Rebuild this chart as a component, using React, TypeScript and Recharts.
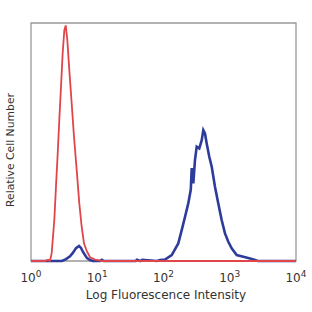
import { LineChart, Line, XAxis, YAxis, ReferenceArea } from 'recharts';

// x values are log10(fluorescence), y values are relative counts (0-100)
const isotypeLog = [0, 0.211, 0.257, 0.285, 0.312, 0.352, 0.377, 0.403, 0.427, 0.453, 0.478, 0.503, 0.524, 0.548, 0.578, 0.614, 0.649, 0.69, 0.729, 0.765, 0.8, 0.841, 0.891, 0.966, 1.067, 4];
const isotypeCount = [0, 0, 0.5, 0, 3.2, 17.2, 31.2, 45.2, 59.2, 73.2, 87.3, 97, 99, 92.9, 80.3, 66.3, 52.2, 38.2, 24.2, 14.4, 7.4, 4.2, 1.6, 0.6, 0, 0];

const stainedLog = [0, 0.468, 0.528, 0.589, 0.634, 0.679, 0.725, 0.755, 0.785, 0.815, 0.845, 0.891, 0.936, 1.04, 1.07, 1.1, 1.58, 1.6, 1.65, 1.68, 1.9, 1.95, 2.023, 2.124, 2.223, 2.275, 2.325, 2.374, 2.412, 2.426, 2.45, 2.475, 2.501, 2.54, 2.577, 2.601, 2.626, 2.652, 2.691, 2.728, 2.777, 2.827, 2.878, 2.928, 2.978, 3.029, 3.105, 3.205, 3.306, 3.381, 3.426, 4];
const stainedCount = [0, 0, 0.8, 2.0, 3.5, 5.4, 6.3, 5.5, 3.8, 2.5, 1.2, 0.4, 0, 0, 0.5, 0, 0, 0.5, 0, 0.5, 0, 0.4, 0.6, 2.5, 7.4, 13, 18.6, 24.2, 30, 39, 32.6, 42.4, 48, 47.3, 50.8, 55, 53.6, 49.4, 43.8, 39.6, 31.2, 24.2, 17.2, 11.6, 8.1, 5.3, 2.5, 1.8, 1.1, 0.4, 0, 0];

const decadeTicks = [0, 1, 2, 3, 4];

const isotypeData = isotypeLog.map((x, i) => ({ x, y: isotypeCount[i] }));
const stainedData = stainedLog.map((x, i) => ({ x, y: stainedCount[i] }));

const FONT = '"DejaVu Sans", Verdana, sans-serif';

function DecadeTick({ x, y, payload }: any) {
  return (
    <text x={x} y={y + 13} textAnchor="middle" fontFamily={FONT} fontSize={12} fill="#333">
      <tspan>10</tspan>
      <tspan dy={-5} fontSize={9}>{payload.value}</tspan>
    </text>
  );
}

export default function App() {
  return (
    <div style={{ position: 'absolute', left: 0, top: 0, width: 312, height: 312, background: '#fff' }}>
      <LineChart width={312} height={312} margin={{ top: 23, right: 16, left: 31, bottom: 0 }}>
        <XAxis
          dataKey="x"
          type="number"
          domain={[0, 4]}
          ticks={decadeTicks}
          axisLine={false}
          tickLine={false}
          tick={<DecadeTick />}
          height={51}
          interval={0}
          allowDuplicatedCategory={false}
        />
        <YAxis hide type="number" domain={[0, 100]} />
        <ReferenceArea x1={0} x2={4} y1={0} y2={100} fill="none" stroke="#999" strokeWidth={1.3} />
        <Line
          data={stainedData}
          dataKey="y"
          type="linear"
          stroke="#2d3b9b"
          strokeWidth={2.6}
          dot={false}
          isAnimationActive={false}
        />
        <Line
          data={isotypeData}
          dataKey="y"
          type="linear"
          stroke="#e0454a"
          strokeWidth={1.8}
          dot={false}
          isAnimationActive={false}
        />
      </LineChart>
      <div
        style={{
          position: 'absolute',
          left: 0,
          top: 288,
          width: 332,
          textAlign: 'center',
          fontFamily: FONT,
          fontSize: 12,
          color: '#333',
        }}
      >
        Log Fluorescence Intensity
      </div>
      <div
        style={{
          position: 'absolute',
          left: 10,
          top: 150,
          transform: 'translate(-50%, -50%) rotate(-90deg)',
          whiteSpace: 'nowrap',
          fontFamily: FONT,
          fontSize: 10.8,
          color: '#333',
        }}
      >
        Relative Cell Number
      </div>
    </div>
  );
}
